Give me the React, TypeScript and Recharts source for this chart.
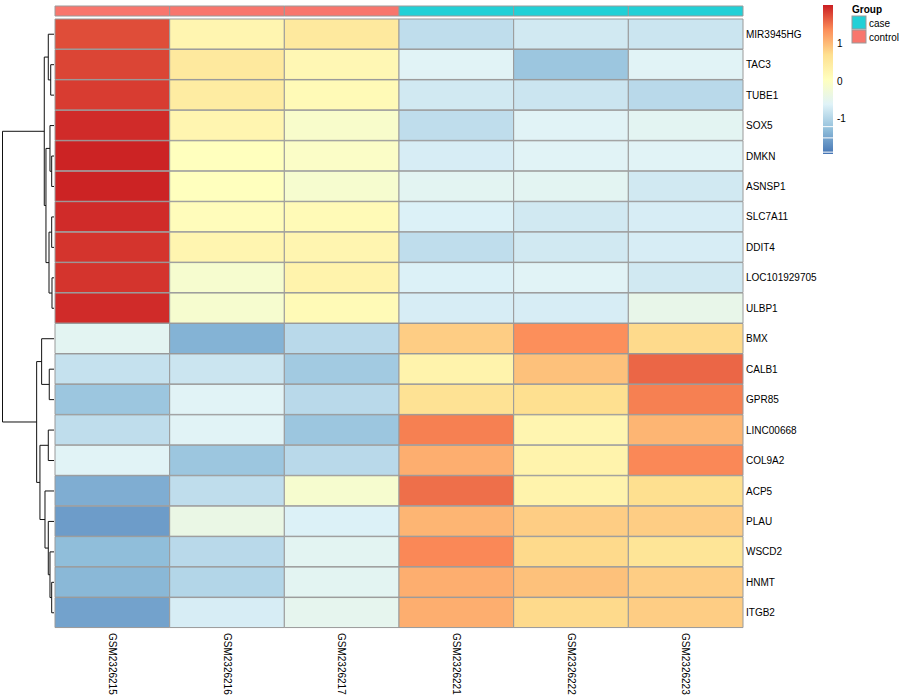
import React from 'react';
import {
  BarChart,
  Bar,
  Cell,
  XAxis,
  YAxis,
  ScatterChart,
  Scatter,
  ReferenceLine,
} from 'recharts';

const genes = [
  'MIR3945HG', 'TAC3', 'TUBE1', 'SOX5', 'DMKN', 'ASNSP1', 'SLC7A11', 'DDIT4',
  'LOC101929705', 'ULBP1', 'BMX', 'CALB1', 'GPR85', 'LINC00668', 'COL9A2',
  'ACP5', 'PLAU', 'WSCD2', 'HNMT', 'ITGB2',
];

const samples = ['GSM2326215', 'GSM2326216', 'GSM2326217', 'GSM2326221', 'GSM2326222', 'GSM2326223'];
const sampleGroups = ['control', 'control', 'control', 'case', 'case', 'case'];

// row-scaled expression (z-score), one array per sample
const gsm2326215 = [1.75, 1.8, 1.85, 1.95, 2.0, 2.0, 1.95, 1.9, 1.9, 1.95, -0.55, -0.85, -1.2, -0.9, -0.6, -1.45, -1.6, -1.3, -1.35, -1.55];
const gsm2326216 = [0.25, 0.5, 0.45, 0.25, 0.05, 0.05, 0.1, 0.25, -0.15, -0.15, -1.4, -0.8, -0.6, -0.6, -1.2, -0.9, -0.4, -0.95, -1.0, -0.7];
const gsm2326217 = [0.5, 0.2, 0.15, -0.1, -0.05, -0.15, 0.15, 0.25, 0.3, 0.15, -0.95, -1.15, -0.95, -1.2, -0.95, -0.15, -0.65, -0.55, -0.55, -0.5];
const gsm2326221 = [-0.9, -0.6, -0.75, -0.9, -0.7, -0.55, -0.65, -0.9, -0.65, -0.7, 0.85, 0.3, 0.65, 1.45, 1.1, 1.55, 1.05, 1.4, 1.1, 1.1];
const gsm2326222 = [-0.75, -1.2, -0.8, -0.6, -0.6, -0.55, -0.75, -0.75, -0.6, -0.7, 1.35, 0.95, 0.7, 0.25, 0.3, 0.3, 0.85, 0.75, 0.95, 0.75];
const gsm2326223 = [-0.8, -0.6, -0.95, -0.55, -0.6, -0.75, -0.7, -0.7, -0.75, -0.45, 0.75, 1.6, 1.45, 1.05, 1.4, 0.7, 0.85, 0.6, 0.85, 0.85];
const sampleValues = [gsm2326215, gsm2326216, gsm2326217, gsm2326221, gsm2326222, gsm2326223];

// hclust-style merges: negative = leaf (1-based row), positive = earlier merge
const rowMerges: [number, number][] = [
  [-2, -3], [-1, 1], [-5, -6], [-4, 3], [-7, -8], [-9, -10], [5, 6], [4, 7], [2, 8],
  [-12, -13], [-11, 10], [-14, -15], [-19, -20], [-18, 13], [-17, 14], [-16, 15],
  [12, 16], [11, 17], [9, 18],
];
const mergeHeights = [
  0.64, 1.11, 0.45, 0.78, 0.45, 0.39, 0.97, 1.56, 1.89,
  0.92, 2.4, 1.11, 0.45, 0.78, 1.11, 1.75, 2.73, 3.37, 10,
];

const legendTicks = [-1, 0, 1];
const legendGaps = [-1.22, -1.52, -1.9];
const zMin = -1.95;
const zMax = 2.03;

const paletteValues = [-1.95, -1.29, -0.62, 0.04, 0.7, 1.37, 2.03];
const paletteColors = ['#4575B4', '#91BFDB', '#E0F3F8', '#FFFFBF', '#FEE090', '#FC8D59', '#CA1E22'];
const groupColors: Record<string, string> = { case: '#22D0D6', control: '#F8766D' };
const border = '#9a9a9a';

function hexToRgb(h: string) {
  return [1, 3, 5].map((i) => parseInt(h.slice(i, i + 2), 16));
}

function zColor(v: number) {
  const c = Math.max(zMin, Math.min(zMax, v));
  let k = 0;
  while (k < paletteValues.length - 2 && c > paletteValues[k + 1]) k++;
  const t = (c - paletteValues[k]) / (paletteValues[k + 1] - paletteValues[k]);
  const a = hexToRgb(paletteColors[k]);
  const b = hexToRgb(paletteColors[k + 1]);
  const m = a.map((x, i) => Math.round(x + (b[i] - x) * t));
  return `rgb(${m[0]},${m[1]},${m[2]})`;
}

const heatRows = genes.map((g) => {
  const row: Record<string, any> = { gene: g };
  samples.forEach((_, j) => (row[`s${j}`] = 1));
  return row;
});

const groupRow = [
  samples.reduce((acc: Record<string, any>, _, j) => ({ ...acc, [`s${j}`]: 1 }), { name: 'Group' }),
];

const legendRow = [{ name: 'z', range: [zMin, zMax] }];

// elbow paths of the row dendrogram
function buildDendro() {
  const pos: { y: number; h: number }[] = [];
  const at = (id: number) => (id < 0 ? { y: -id - 0.5, h: 0 } : pos[id - 1]);
  return rowMerges.map(([a, b], i) => {
    const A = at(a);
    const B = at(b);
    const h = mergeHeights[i];
    pos.push({ y: (A.y + B.y) / 2, h });
    return [
      { h: A.h, y: A.y },
      { h, y: A.y },
      { h, y: B.y },
      { h: B.h, y: B.y },
    ];
  });
}
const dendroPaths = buildDendro();

const SampleTick = (props: any) => {
  const { x, y, payload } = props;
  const idx = Math.round(payload.value - 0.5);
  return (
    <text
      x={x}
      y={y}
      dy="0.35em"
      fontSize={10}
      fill="#000"
      textAnchor="start"
      transform={`rotate(90, ${x}, ${y})`}
    >
      {samples[idx]}
    </text>
  );
};

export default function App() {
  return (
    <div
      style={{
        position: 'absolute',
        left: 0,
        top: 0,
        width: 900,
        height: 700,
        background: '#fff',
        fontFamily: '"Liberation Sans", Arial, sans-serif',
      }}
    >
      {/* row dendrogram */}
      <div style={{ position: 'absolute', left: 0, top: 0 }}>
        <ScatterChart width={55} height={700} margin={{ top: 19, left: 2.5, right: 1, bottom: 72 }}>
          <XAxis type="number" dataKey="h" domain={[0, 10]} reversed hide />
          <YAxis type="number" dataKey="y" domain={[0, 20]} reversed hide />
          {dendroPaths.map((pts, i) => (
            <Scatter
              key={i}
              data={pts}
              line={{ stroke: '#111', strokeWidth: 1 }}
              shape={() => <g />}
              isAnimationActive={false}
            />
          ))}
        </ScatterChart>
      </div>

      {/* group annotation */}
      <div style={{ position: 'absolute', left: 0, top: 0 }}>
        <BarChart
          width={900}
          height={17}
          data={groupRow}
          layout="vertical"
          barCategoryGap={0}
          margin={{ top: 6, left: 55, right: 0, bottom: 1 }}
        >
          <XAxis type="number" domain={[0, 6]} hide />
          <YAxis
            type="category"
            dataKey="name"
            orientation="right"
            width={157}
            axisLine={false}
            tickLine={false}
            tickSize={0}
            tickMargin={3}
            tick={{ fontSize: 10, fontWeight: 'bold', fill: '#000' }}
          />
          {samples.map((s, j) => (
            <Bar key={s} dataKey={`s${j}`} stackId="g" stroke={border} strokeWidth={1} isAnimationActive={false}>
              <Cell fill={groupColors[sampleGroups[j]]} />
            </Bar>
          ))}
        </BarChart>
      </div>

      {/* heatmap */}
      <div style={{ position: 'absolute', left: 0, top: 0 }}>
        <BarChart
          width={900}
          height={700}
          data={heatRows}
          layout="vertical"
          barCategoryGap={0}
          margin={{ top: 19, left: 55, right: 0, bottom: 0 }}
        >
          <XAxis
            type="number"
            domain={[0, 6]}
            ticks={[0.5, 1.5, 2.5, 3.5, 4.5, 5.5]}
            height={72}
            axisLine={false}
            tickLine={false}
            tickSize={0}
            tickMargin={5}
            tick={<SampleTick />}
            interval={0}
          />
          <YAxis
            type="category"
            dataKey="gene"
            orientation="right"
            width={157}
            axisLine={false}
            tickLine={false}
            tickSize={0}
            tickMargin={3}
            interval={0}
            tick={{ fontSize: 10, fill: '#000' }}
          />
          {samples.map((s, j) => (
            <Bar key={s} dataKey={`s${j}`} stackId="h" stroke={border} strokeWidth={1} isAnimationActive={false}>
              {genes.map((g, i) => (
                <Cell key={g} fill={zColor(sampleValues[j][i])} />
              ))}
            </Bar>
          ))}
        </BarChart>
      </div>

      {/* colour key */}
      <div style={{ position: 'absolute', left: 823, top: 0 }}>
        <BarChart
          width={40}
          height={160}
          data={legendRow}
          barCategoryGap={0}
          margin={{ top: 5, left: 0, right: 0, bottom: 6 }}
        >
          <defs>
            <linearGradient id="zGrad" x1="0" y1="0" x2="0" y2="1">
              {paletteValues
                .map((v, i) => ({ v, c: paletteColors[i] }))
                .reverse()
                .map(({ v, c }) => (
                  <stop key={v} offset={(zMax - v) / (zMax - zMin)} stopColor={c} />
                ))}
            </linearGradient>
          </defs>
          <XAxis type="category" dataKey="name" hide />
          <YAxis
            type="number"
            domain={[zMin, zMax]}
            ticks={legendTicks}
            orientation="right"
            width={30}
            axisLine={false}
            tickLine={false}
            tickSize={0}
            tickMargin={4}
            tick={{ fontSize: 10, fill: '#000' }}
          />
          <Bar dataKey="range" fill="url(#zGrad)" isAnimationActive={false} />
          {legendGaps.map((g) => (
            <ReferenceLine key={g} y={g} stroke="#fff" strokeWidth={1} />
          ))}
        </BarChart>
      </div>

      {/* group legend */}
      <svg width={900} height={60} style={{ position: 'absolute', left: 0, top: 0 }}>
        <text x={852} y={13} fontSize={10} fontWeight="bold" fill="#000">
          Group
        </text>
        {['case', 'control'].map((g, i) => (
          <g key={g}>
            <rect x={852} y={16 + i * 14} width={14} height={13} fill={groupColors[g]} stroke={border} />
            <text x={869} y={23 + i * 14} dy="0.35em" fontSize={10} fill="#000">
              {g}
            </text>
          </g>
        ))}
      </svg>
    </div>
  );
}
